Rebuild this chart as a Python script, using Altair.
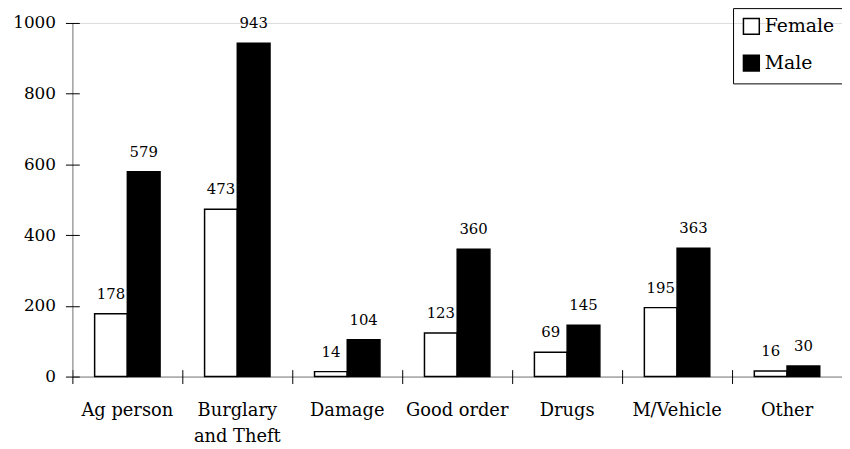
import altair as alt
import pandas as pd

categories = ["Ag person", "Burglary and Theft", "Damage", "Good order", "Drugs", "M/Vehicle", "Other"]
female = [178, 473, 14, 123, 69, 195, 16]
male = [579, 943, 104, 360, 145, 363, 30]
series = ["Female", "Male"]
y_ticks = [0, 200, 400, 600, 800, 1000]

rows = []
for c, f, m in zip(categories, female, male):
    rows.append({"cat": c, "sex": "Female", "value": f})
    rows.append({"cat": c, "sex": "Male", "value": m})
df = pd.DataFrame(rows)

FONT = "DejaVu Serif"

xscale = alt.Scale(domain=categories, paddingInner=0, paddingOuter=0)
yscale = alt.Scale(domain=[0, 1000])
xoff_scale = alt.Scale(domain=series, paddingOuter=0.68, paddingInner=0)

label_expr = "datum.value == 'Burglary and Theft' ? ['Burglary', 'and Theft'] : datum.label"

bars = alt.Chart(df).mark_bar(stroke="black", strokeWidth=1.5).encode(
    x=alt.X("cat:N", sort=categories, scale=xscale, title=None,
            axis=alt.Axis(orient="bottom", ticks=False, tickSize=0, domain=True,
                          domainColor="#808080", labelAngle=0, labelFont=FONT,
                          labelFontSize=18, labelColor="black", labelPadding=25,
                          labelExpr=label_expr, labelLineHeight=27, labelBaseline="top")),
    xOffset=alt.XOffset("sex:N", scale=xoff_scale),
    y=alt.Y("value:Q", scale=yscale, title=None,
            axis=alt.Axis(orient="left", values=y_ticks, ticks=False, tickSize=0,
                          domain=True, domainColor="#808080", grid=False, format="d",
                          labelFont=FONT, labelFontSize=17, labelColor="black",
                          labelPadding=17)),
    fill=alt.Fill("sex:N", scale=alt.Scale(domain=series, range=["white", "black"]),
                  legend=alt.Legend(title=None, orient="none", legendX=667, legendY=-15,
                                    strokeColor="black", padding=9, symbolType="square",
                                    symbolSize=256, symbolStrokeColor="black",
                                    symbolStrokeWidth=1.5, labelFont=FONT,
                                    labelFontSize=19, labelColor="black", rowPadding=14,
                                    labelOffset=4)),
)

text = alt.Chart(df).mark_text(font=FONT, fontSize=15, color="black",
                               baseline="alphabetic", dy=-15).encode(
    x=alt.X("cat:N", sort=categories, scale=xscale, title=None,
            axis=alt.Axis(orient="bottom", domain=False, labels=False, ticks=True,
                          tickSize=14, offset=-7, bandPosition=0, tickColor="black")),
    xOffset=alt.XOffset("sex:N", scale=xoff_scale),
    y=alt.Y("value:Q", scale=yscale, title=None,
            axis=alt.Axis(orient="left", values=y_ticks, domain=False, labels=False,
                          ticks=True, tickSize=14, offset=-7, grid=False,
                          tickColor="black")),
    text=alt.Text("value:Q"),
)

chart = alt.layer(bars, text).resolve_axis(x="independent", y="independent").properties(
    width=777, height=357,
    autosize=alt.AutoSizeParams(type="none"),
    padding={"left": 65, "top": 13, "right": 0, "bottom": 70},
).configure_view(stroke=None).configure(font=FONT)

chart.save("out.html", embed_options={"renderer": "svg", "actions": False})
